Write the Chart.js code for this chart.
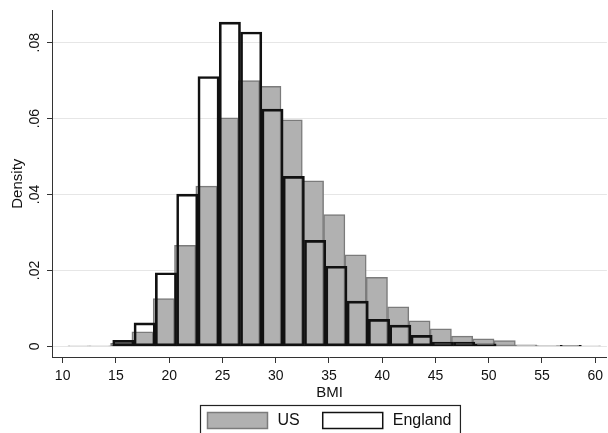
<!DOCTYPE html>
<html>
<head>
<meta charset="utf-8">
<title>BMI density: US vs England</title>
<script src="https://cdn.jsdelivr.net/npm/chart.js@4.4.1/dist/chart.umd.min.js"></script>
<style>
  html, body { margin: 0; padding: 0; background: #fff; }
  #wrap { width: 608px; height: 433px; }
</style>
</head>
<body>
<div id="wrap"><canvas id="bmiChart" width="608" height="433"></canvas></div>
<script>
// histogram bins (width 2) and densities
const usBins = [11.5, 13.5, 15.5, 17.5, 19.5, 21.5, 23.5, 25.5, 27.5, 29.5, 31.5, 33.5, 35.5,
                37.5, 39.5, 41.5, 43.5, 45.5, 47.5, 49.5, 51.5, 53.5, 55.5, 57.5, 59.5];
const usDensity = [0.0001, 0.0001, 0.0008, 0.0038, 0.0126, 0.0266, 0.0422, 0.0602, 0.0700, 0.0685,
                   0.0597, 0.0436, 0.0347, 0.0241, 0.0182, 0.0104, 0.0067, 0.0046, 0.0027, 0.0020,
                   0.0015, 0.0004, 0.0002, 0.0002, 0.0001];

const englandBins = [15.7, 17.7, 19.7, 21.7, 23.7, 25.7, 27.7, 29.7, 31.7, 33.7, 35.7,
                     37.7, 39.7, 41.7, 43.7, 45.7, 47.7, 49.7, 51.7, 53.7, 55.7, 57.7];
const englandDensity = [0.0016, 0.0062, 0.0194, 0.0401, 0.0711, 0.0854, 0.0828, 0.0625, 0.0448, 0.0279, 0.0211,
                        0.0119, 0.0071, 0.0056, 0.0029, 0.0011, 0.0011, 0.0007, 0, 0, 0, 0.0003];

const xTicks = [10, 15, 20, 25, 30, 35, 40, 45, 50, 55, 60];
const yTicks = [0, 0.02, 0.04, 0.06, 0.08];

const FONT = '"Liberation Sans", Arial, Helvetica, sans-serif';
const AXIS = '#333333';

// Stata-style legend: swatches inside a plain box under the axis title
const boxedLegend = {
    id: 'boxedLegend',
    afterDraw(chart) {
        const { ctx, chartArea } = chart;
        const sets = chart.data.datasets;
        const swW = 60, swH = 16, gap = 10, itemGap = 23, padL = 7, padR = 9;

        ctx.save();
        ctx.font = '16px ' + FONT;
        let total = padL + padR;
        sets.forEach((ds, i) => {
            total += swW + gap + ctx.measureText(ds.label).width;
            if (i < sets.length - 1) total += itemGap;
        });
        const left = Math.round((chartArea.left + chartArea.right) / 2 - total / 2) + 1.5;
        const top = 405.5;

        ctx.strokeStyle = '#222';
        ctx.lineWidth = 1.2;
        ctx.strokeRect(left, top, total, 60);

        let x = left + padL;
        const boxTop = top + 7;
        sets.forEach((ds) => {
            ctx.fillStyle = '#fff';
            ctx.fillRect(x, boxTop, swW, swH);
            ctx.fillStyle = ds.backgroundColor;
            ctx.fillRect(x, boxTop, swW, swH);
            ctx.strokeStyle = ds.borderColor;
            ctx.lineWidth = 1.5;
            ctx.strokeRect(x, boxTop, swW, swH);
            x += swW + gap;
            ctx.fillStyle = '#111';
            ctx.textBaseline = 'middle';
            ctx.textAlign = 'left';
            ctx.fillText(ds.label, x, boxTop + swH / 2 + 0.5);
            x += ctx.measureText(ds.label).width + itemGap;
        });
        ctx.restore();
    }
};

const setTicks = (list) => (scale) => {
    scale.ticks = list.map(v => ({ value: v }));
};

new Chart(document.getElementById('bmiChart'), {
    type: 'bar',
    data: {
        datasets: [
            {
                label: 'US',
                data: usBins.map((b, i) => ({ x: b, y: usDensity[i] })),
                xAxisID: 'x',
                backgroundColor: '#b1b1b1',
                borderColor: '#7b7b7b',
                borderWidth: 1.5,
                borderSkipped: false,
                order: 2
            },
            {
                label: 'England',
                data: englandBins.map((b, i) => ({ x: b, y: englandDensity[i] })),
                xAxisID: 'xEng',
                backgroundColor: 'rgba(0,0,0,0)',
                borderColor: '#111111',
                borderWidth: 2,
                borderSkipped: false,
                order: 1
            }
        ]
    },
    options: {
        responsive: false,
        animation: false,
        grouped: false,
        barPercentage: 1,
        categoryPercentage: 1,
        layout: { padding: { top: 10, right: 0, bottom: 0, left: 0 } },
        plugins: {
            legend: { display: false },
            tooltip: { enabled: false }
        },
        scales: {
            x: {
                type: 'linear',
                position: 'bottom',
                min: 9.0,
                max: 61.1,
                offset: false,
                afterBuildTicks: setTicks(xTicks),
                afterFit: (scale) => { scale.height = 76; },
                grid: {
                    offset: false,
                    drawOnChartArea: false,
                    drawTicks: true,
                    tickLength: 6,
                    tickColor: AXIS,
                    tickWidth: 1
                },
                border: { display: true, color: AXIS, width: 1 },
                ticks: {
                    padding: 5,
                    color: '#111',
                    font: { family: FONT, size: 14 },
                    maxRotation: 0,
                    autoSkip: false
                },
                title: {
                    display: true,
                    text: 'BMI',
                    color: '#111',
                    font: { family: FONT, size: 15 },
                    padding: { top: 0, bottom: 31 }
                }
            },
            xEng: {
                type: 'linear',
                display: false,
                min: 9.0,
                max: 61.1,
                offset: false,
                afterBuildTicks: setTicks(xTicks),
                grid: { offset: false }
            },
            y: {
                type: 'linear',
                min: -0.0028,
                max: 0.0885,
                afterBuildTicks: setTicks(yTicks),
                afterFit: (scale) => { scale.width = 52; },
                grid: {
                    color: '#e6e6e6',
                    lineWidth: 1,
                    drawTicks: true,
                    tickLength: 5,
                    tickColor: AXIS
                },
                border: { display: true, color: AXIS, width: 1 },
                ticks: {
                    minRotation: 90,
                    maxRotation: 90,
                    crossAlign: 'center',
                    padding: 2,
                    color: '#111',
                    font: { family: FONT, size: 14 },
                    callback: (v) => v === 0 ? '0' : v.toFixed(2).replace(/^0/, '')
                },
                title: {
                    display: true,
                    text: 'Density',
                    color: '#111',
                    font: { family: FONT, size: 15 },
                    padding: { top: 9, bottom: 0 }
                }
            }
        }
    },
    plugins: [boxedLegend]
});
</script>
</body>
</html>
